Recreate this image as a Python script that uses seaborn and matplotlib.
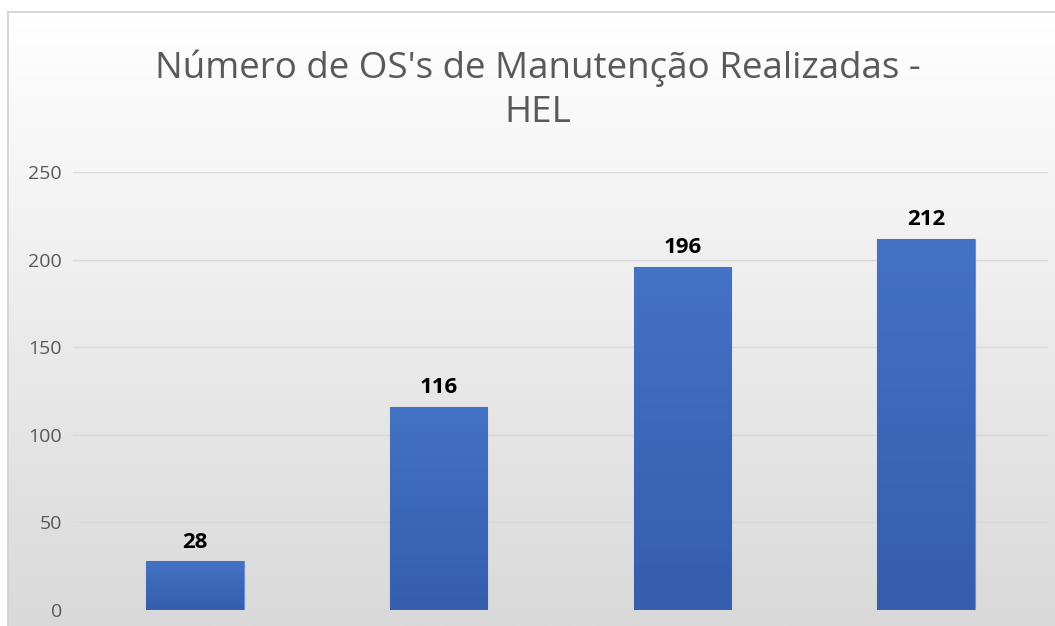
import numpy as np
import pandas as pd
import matplotlib
matplotlib.use("Agg")
import matplotlib.pyplot as plt
import seaborn as sns

# dados (categorias do eixo x ficam cortadas na imagem original)
categorias = ["Cat 1", "Cat 2", "Cat 3", "Cat 4"]
valores = [28, 116, 196, 212]
titulo = "Número de OS's de Manutenção Realizadas -\nHEL"

df = pd.DataFrame({"categoria": categorias, "valor": valores})

sns.set_theme(style="white")
plt.rcParams["font.family"] = ["Open Sans", "DejaVu Sans"]

W, H = 1055, 626
fig = plt.figure(figsize=(W / 100, H / 100), dpi=100)
fig.patch.set_facecolor("white")

# fundo do gráfico com degradê vertical
bg = fig.add_axes([8 / W, 0, 1 - 8 / W, (H - 12) / H])
grad = np.linspace(0, 1, 256).reshape(-1, 1)
top_c = np.array([1.0, 1.0, 1.0])
bot_c = np.array([0xd9, 0xd9, 0xd9]) / 255
img = top_c + (bot_c - top_c) * grad[..., None]
bg.imshow(img, aspect="auto", extent=[0, 1, 0, 1], origin="upper")
bg.set_xticks([])
bg.set_yticks([])
for s in bg.spines.values():
    s.set_color("#d0d0d0")
    s.set_linewidth(1.2)
bg.spines["bottom"].set_visible(False)
bg.spines["right"].set_visible(False)
bg.set_zorder(0)

ax = fig.add_axes([73 / W, 16 / H, (1048 - 73) / W, 438 / H])
ax.set_zorder(1)
ax.patch.set_alpha(0)

sns.barplot(data=df, x="categoria", y="valor", color="#4472c4", width=0.4,
            ax=ax, zorder=3)

ax.set_ylim(0, 250)
ax.set_yticks([0, 50, 100, 150, 200, 250])
ax.yaxis.grid(True, color="#d9d9d9", linewidth=1.0)
ax.set_axisbelow(True)
ax.tick_params(axis="y", labelsize=14, colors="#595959", length=0, pad=8)
ax.tick_params(axis="x", labelbottom=False, length=0)
ax.set_xlabel("")
ax.set_ylabel("")
for s in ax.spines.values():
    s.set_visible(False)

# degradê nas barras
bar_grad = np.linspace(0, 1, 128).reshape(-1, 1)
c1 = np.array([0x44, 0x72, 0xc4]) / 255
c2 = np.array([0x35, 0x5e, 0xad]) / 255
bar_img = c1 + (c2 - c1) * bar_grad[..., None]
for p in ax.patches:
    x0, w, h = p.get_x(), p.get_width(), p.get_height()
    im = ax.imshow(bar_img, aspect="auto", extent=[x0, x0 + w, 0, h],
                   origin="upper", zorder=3)
    im.set_clip_path(p)
    p.set_edgecolor("#6a8fd0")
    p.set_linewidth(0.8)
ax.set_xlim(-0.5, len(categorias) - 0.5)
ax.set_ylim(0, 250)

for i, v in enumerate(valores):
    ax.annotate(str(v), (i, v), xytext=(0, 6), textcoords="offset points",
                ha="center", va="bottom", fontsize=16, fontweight="bold",
                color="black")

fig.text(538 / W, 1 - 90 / H, titulo, ha="center", va="center",
         fontsize=26.5, color="#595959", linespacing=1.3)

fig.savefig("out.png", dpi=100)
